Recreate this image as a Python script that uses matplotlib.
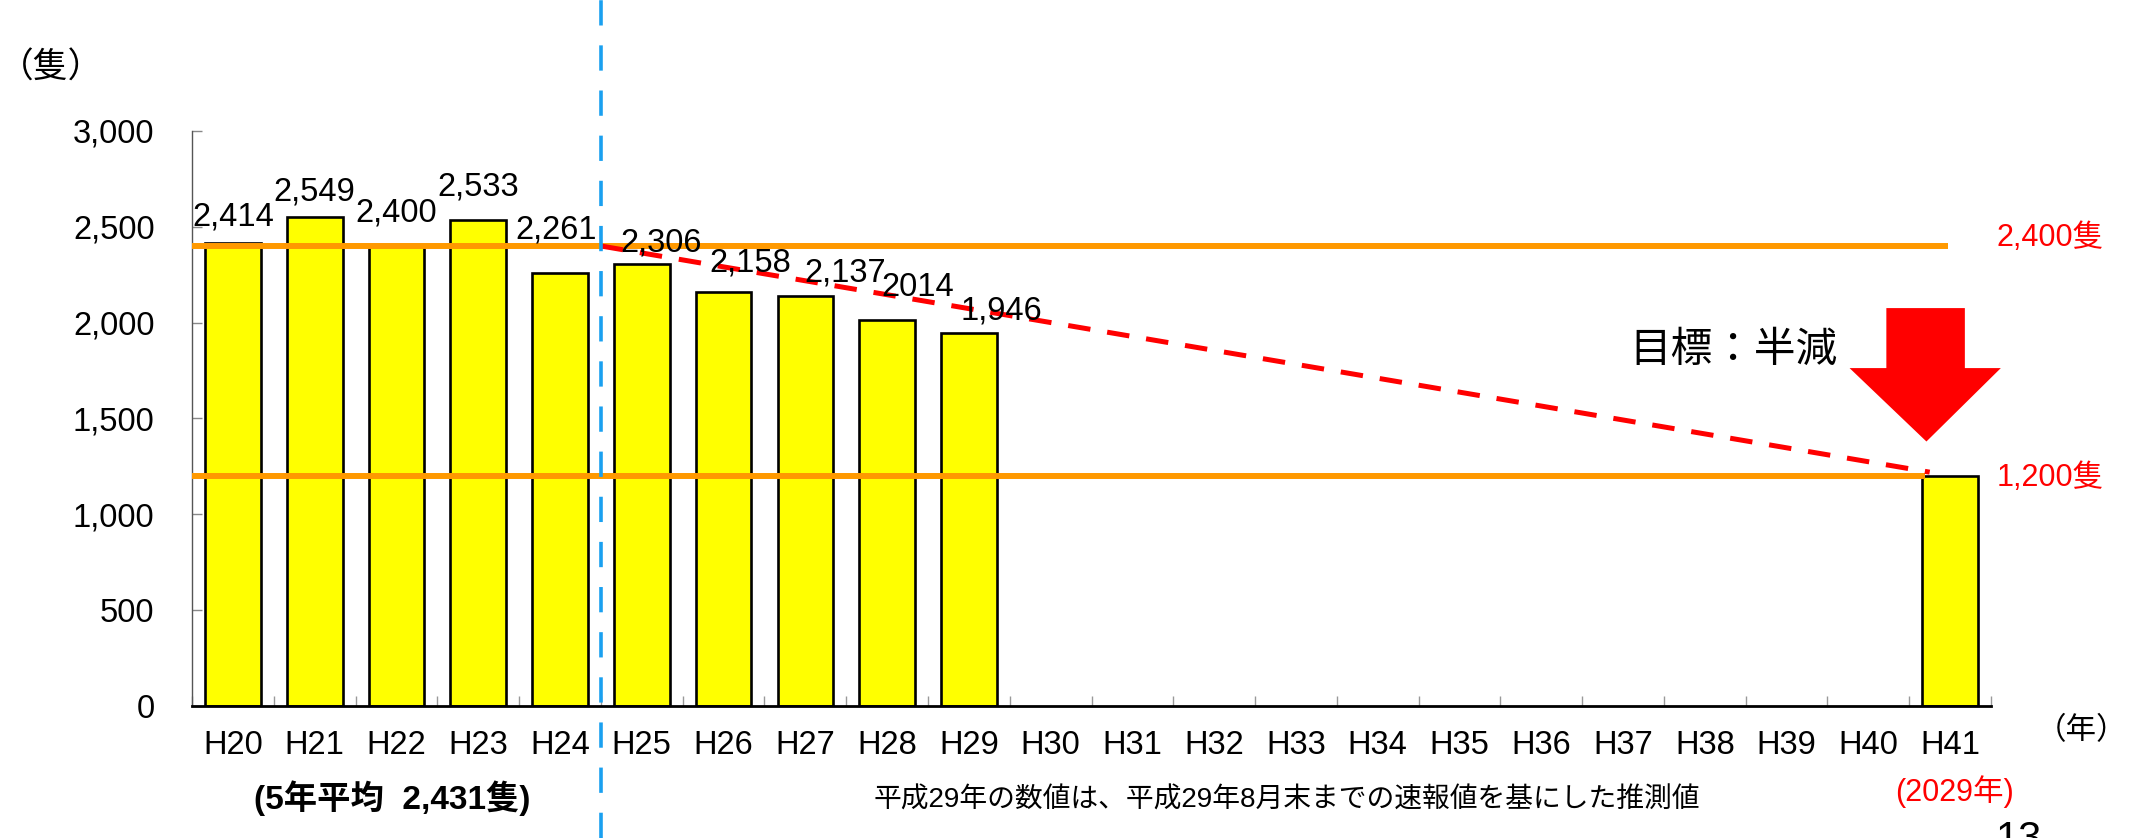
import matplotlib
matplotlib.use('Agg')
import matplotlib.pyplot as plt
from matplotlib.patches import Polygon
from matplotlib.lines import Line2D
import matplotlib.transforms as mtransforms
import numpy as np

# latin glyphs from Liberation Sans, kanji fall through to Noto CJK
FONTS = ['Liberation Sans', 'Noto Sans CJK JP', 'DejaVu Sans']
plt.rcParams['font.family'] = FONTS
NUM_SIZE = 23.5

# yearly counts (H20..H41), None where there is no bar
years = ['H%d' % y for y in range(20, 42)]
counts = [2414, 2549, 2400, 2533, 2261, 2306, 2158, 2137, 2014, 1946,
          None, None, None, None, None, None, None, None, None, None, None, 1200]
count_labels = ['2,414', '2,549', '2,400', '2,533', '2,261', '2,306',
                '2,158', '2,137', '2014', '1,946']
avg_level = 2400     # 5-year average line
goal_level = 1200    # target for H41
y_ticks = [0, 500, 1000, 1500, 2000, 2500, 3000]

# where each value label sits relative to its bar top
label_dx = [0, 0, 0, 0, -0.05, 0.23, 0.33, 0.49, 0.38, 0.4]
label_dy = [137, 132, 172, 174, 222, 109, 153, 122, 172, 115]

fig = plt.figure(figsize=(21.34, 8.38), dpi=100)
ax = fig.add_axes([0.09, 0.1575, 0.843, 0.6862])

x = np.arange(len(years))
bar_x = [i for i, v in enumerate(counts) if v is not None]
bar_h = [v for v in counts if v is not None]
ax.bar(bar_x, bar_h, width=0.68, color='#ffff00', edgecolor='black',
       linewidth=1.9, zorder=2)

for i, txt in enumerate(count_labels):
    ax.text(i + label_dx[i], counts[i] + label_dy[i], txt, ha='center',
            va='center', fontsize=NUM_SIZE, zorder=5)

# orange reference lines
ax.plot([-0.5, 20.97], [avg_level, avg_level], color='#ff9900', lw=4.3,
        zorder=3, clip_on=False, solid_capstyle='butt')
goal_i = len(years) - 1
ax.plot([-0.5, goal_i - 0.31], [goal_level, goal_level], color='#ff9900',
        lw=4.3, zorder=3, clip_on=False, solid_capstyle='butt')

# dashed red trend from the average down to the target
ax.plot([4.5, goal_i - 0.25], [avg_level, goal_level + 20], color='#ff0000',
        lw=3.6, dashes=(4.5, 3.4), zorder=4)

# blue divider running the full figure height
trans = mtransforms.blended_transform_factory(ax.transData, fig.transFigure)
fig.add_artist(Line2D([4.5, 4.5], [0, 1], transform=trans, color='#1aa0f0',
                      lw=2.6, dashes=(7, 5.5)))

# big red arrow above the H41 bar
cx = goal_i - 0.29
arrow = [(cx - 0.49, 2076), (cx + 0.47, 2076), (cx + 0.47, 1763),
         (cx + 0.91, 1763), (cx, 1380), (cx - 0.94, 1763), (cx - 0.49, 1763)]
ax.add_patch(Polygon(arrow, closed=True, facecolor='#ff0000',
                     edgecolor='none', clip_on=False, zorder=6))
ax.text(18.35, 1857, '目標：半減', ha='center', va='center', fontsize=30,
        family=['Noto Sans CJK JP'])

ax.text(22.22, avg_level + 41, '2,400隻', color='#ff0000', ha='center',
        va='center', fontsize=22, clip_on=False)
ax.text(22.22, goal_level - 11, '1,200隻', color='#ff0000', ha='center',
        va='center', fontsize=22, clip_on=False)

# axes styling
ax.set_xlim(-0.5, len(years) - 0.5)
ax.set_ylim(0, 3000)
ax.set_yticks(y_ticks)
ax.set_yticklabels(['{:,}'.format(v) for v in y_ticks])
ax.set_xticks(x)
ax.set_xticklabels(years)
ax.set_xticks(np.arange(-0.5, len(years), 1), minor=True)
ax.tick_params(axis='x', which='major', length=0, pad=17, labelsize=NUM_SIZE)
ax.tick_params(axis='x', which='minor', direction='in', length=7,
               color='#999999', width=1)
ax.tick_params(axis='y', direction='in', length=7, color='#888888',
               width=1, pad=27, labelsize=NUM_SIZE)
for s in ['top', 'right']:
    ax.spines[s].set_visible(False)
ax.spines['left'].set_color('#555555')
ax.spines['left'].set_linewidth(1)
ax.spines['bottom'].set_linewidth(2)

# surrounding captions
fig.text(0.024, 0.919, '（隻）', ha='center', va='center', fontsize=25,
         family=['Noto Sans CJK JP'])
fig.text(0.9756, 0.128, '（年）', ha='center', va='center', fontsize=22,
         family=['Noto Sans CJK JP'])
fig.text(0.1837, 0.048, '(5年平均  2,431隻)', ha='center', va='center',
         fontsize=24, fontweight='bold')
fig.text(0.603, 0.045, '平成29年の数値は、平成29年8月末までの速報値を基にした推測値',
         ha='center', va='center', fontsize=20)
fig.text(0.916, 0.055, '(2029年)', color='#ff0000', ha='center',
         va='center', fontsize=22)
fig.text(0.946, 0.022, '13', ha='center', va='top', fontsize=30)

fig.savefig('out.png', dpi=100)
